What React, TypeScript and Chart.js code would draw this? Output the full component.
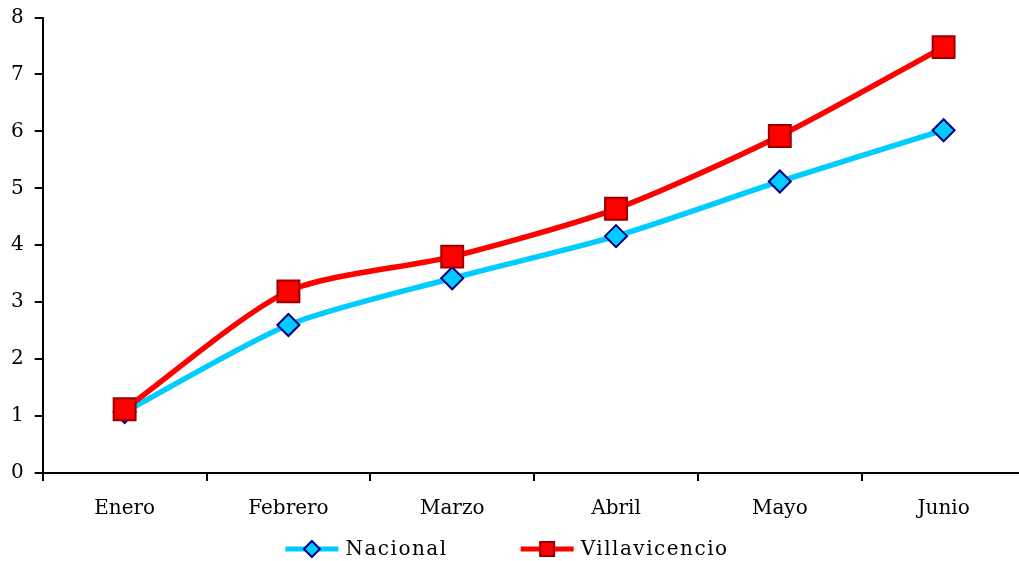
import React, { useEffect, useRef } from "react";
import { Chart, registerables } from "chart.js";

Chart.register(...registerables);

const categories = ["Enero", "Febrero", "Marzo", "Abril", "Mayo", "Junio"];
const nacional = [1.07, 2.6, 3.42, 4.16, 5.12, 6.02];
const villavicencio = [1.12, 3.19, 3.8, 4.64, 5.92, 7.48];
const seriesNames = ["Nacional", "Villavicencio"];
const yTicks = [0, 1, 2, 3, 4, 5, 6, 7, 8];

const FONT = "'DejaVu Serif', serif";

const legendPlugin = {
  id: "customLegend",
  afterDraw(chart: any) {
    const ctx = chart.ctx as CanvasRenderingContext2D;
    const ds = chart.data.datasets;
    const order = [1, 0];
    ctx.save();
    ctx.font = `20px ${FONT}`;
    (ctx as any).letterSpacing = "1.5px";
    const lineLen = 53;
    const gapText = 7;
    const gapItem = 73;
    const widths = order.map((i) => lineLen + gapText + ctx.measureText(ds[i].label).width);
    const total = widths.reduce((a, b) => a + b, 0) + gapItem * (order.length - 1);
    let x = 507 - total / 2;
    const y = chart.height - 12;
    order.forEach((i, k) => {
      const d = ds[i];
      ctx.strokeStyle = d.borderColor;
      ctx.lineWidth = 5;
      ctx.beginPath();
      ctx.moveTo(x, y);
      ctx.lineTo(x + lineLen, y);
      ctx.stroke();
      const cx = x + lineLen / 2;
      ctx.fillStyle = d.pointBackgroundColor;
      ctx.strokeStyle = d.pointBorderColor;
      ctx.lineWidth = 2;
      ctx.beginPath();
      if (d.pointStyle === "rectRot") {
        const r = 8;
        ctx.moveTo(cx, y - r);
        ctx.lineTo(cx + r, y);
        ctx.lineTo(cx, y + r);
        ctx.lineTo(cx - r, y);
        ctx.closePath();
      } else {
        const s = 7;
        ctx.rect(cx - s, y - s, 2 * s, 2 * s);
      }
      ctx.fill();
      ctx.stroke();
      ctx.fillStyle = "#000";
      ctx.textBaseline = "middle";
      ctx.textAlign = "left";
      ctx.fillText(d.label, x + lineLen + gapText, y + 1);
      x += widths[k] + gapItem;
    });
    ctx.restore();
  },
};

export default function App() {
  const ref = useRef<HTMLCanvasElement>(null);
  useEffect(() => {
    if (!ref.current) return;
    const chart = new Chart(ref.current, {
      type: "line",
      data: {
        labels: categories,
        datasets: [
          {
            label: seriesNames[1],
            data: villavicencio,
            borderColor: "#FF0000",
            borderWidth: 5.5,
            pointStyle: "rect",
            pointRadius: 15.5,
            pointBackgroundColor: "#FF0000",
            pointBorderColor: "#990000",
            pointBorderWidth: 2,
            tension: 0.25,
          } as any,
          {
            label: seriesNames[0],
            data: nacional,
            borderColor: "#00CCFF",
            borderWidth: 5.5,
            pointStyle: "rectRot",
            pointRadius: 11,
            pointBackgroundColor: "#00CCFF",
            pointBorderColor: "#000080",
            pointBorderWidth: 2,
            tension: 0.25,
          } as any,
        ],
      },
      options: {
        responsive: false,
        animation: false,
        layout: { padding: { left: 0, right: 6, top: 3, bottom: 24 } },
        plugins: { legend: { display: false }, tooltip: { enabled: false } },
        scales: {
          x: {
            offset: true,
            grid: {
              display: true,
              offset: true,
              drawOnChartArea: false,
              drawTicks: true,
              tickLength: 8,
              color: "#000",
              lineWidth: 2,
            },
            border: { color: "#000", width: 2 },
            ticks: { color: "#000", font: { family: FONT, size: 20 }, padding: 16 },
          },
          y: {
            min: yTicks[0],
            max: yTicks[yTicks.length - 1],
            afterBuildTicks: (axis: any) => {
              axis.ticks = yTicks.map((v) => ({ value: v }));
            },
            grid: {
              display: true,
              drawOnChartArea: false,
              drawTicks: true,
              tickLength: 8,
              color: "#000",
              lineWidth: 2,
            },
            border: { color: "#000", width: 2 },
            ticks: { color: "#000", font: { family: FONT, size: 20, lineHeight: 0.5 }, padding: 11 },
          },
        },
      },
      plugins: [legendPlugin],
    });
    return () => chart.destroy();
  }, []);
  return (
    <div
      style={{
        position: "fixed",
        left: 0,
        top: 0,
        width: 1019,
        height: 561,
        overflow: "hidden",
        background: "#fff",
      }}
    >
      <canvas ref={ref} width={1043} height={561} style={{ width: 1043, height: 561, display: "block" }} />
    </div>
  );
}
